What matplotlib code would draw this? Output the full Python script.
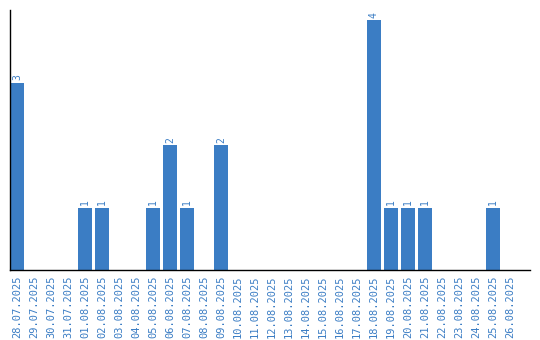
import numpy as np
import matplotlib.pyplot as plt

# --- Données ---
dates = ['28.07.2025', '29.07.2025', '30.07.2025', '31.07.2025', '01.08.2025',
         '02.08.2025', '03.08.2025', '04.08.2025', '05.08.2025', '06.08.2025',
         '07.08.2025', '08.08.2025', '09.08.2025', '10.08.2025', '11.08.2025',
         '12.08.2025', '13.08.2025', '14.08.2025', '15.08.2025', '16.08.2025',
         '17.08.2025', '18.08.2025', '19.08.2025', '20.08.2025', '21.08.2025',
         '22.08.2025', '23.08.2025', '24.08.2025', '25.08.2025', '26.08.2025']
valeurs = [3, 0, 0, 0, 1, 1, 0, 0, 1, 2, 1, 0, 2, 0, 0,
           0, 0, 0, 0, 0, 0, 4, 1, 1, 1, 0, 0, 0, 1, 0]

bleu = '#3b7dc4'
largeur = 0.82

fig = plt.figure(figsize=(5.4, 3.4), dpi=100)
ax = fig.add_axes([10/540, 70/340, 520/540, 260/340])

x = np.arange(len(dates))
ax.bar(x, valeurs, width=largeur, color=bleu)

for xi, v in zip(x, valeurs):
    if v > 0:
        ax.text(xi, v + 0.04, str(v), rotation=90, ha='center', va='bottom',
                color=bleu, fontsize=7, family='DejaVu Sans Mono')

ax.set_xlim(-largeur/2, 30.18)
ax.set_ylim(0, 4.16)
ax.set_xticks(x)
ax.set_xticklabels(dates, rotation=90, color=bleu, fontsize=7.5,
                   family='DejaVu Sans Mono')
ax.tick_params(axis='x', length=0, pad=4)
ax.set_yticks([])
for s in ['top', 'right']:
    ax.spines[s].set_visible(False)
ax.spines['left'].set_linewidth(1)
ax.spines['bottom'].set_linewidth(1)

fig.savefig('out.png', dpi=100)
